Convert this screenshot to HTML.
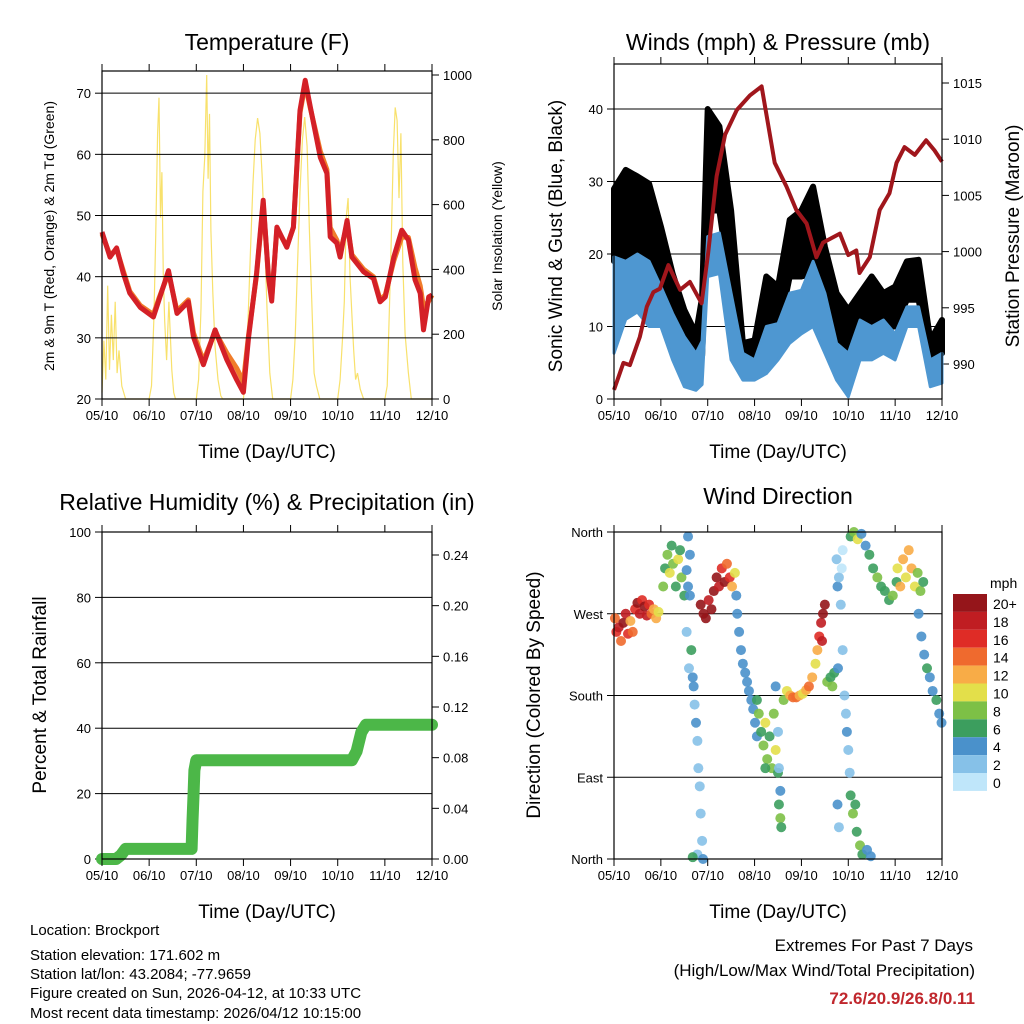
<!DOCTYPE html>
<html><head><meta charset="utf-8"><style>
html,body{margin:0;padding:0;background:#fff}
svg{display:block;font-family:"Liberation Sans",sans-serif}
</style></head><body>
<svg id="s" width="1024" height="1024" viewBox="0 0 1024 1024">
<rect width="1024" height="1024" fill="#fff"/>
<g font-size="23" text-anchor="middle" fill="#000">
<text x="267" y="50">Temperature (F)</text>
<text x="778" y="50">Winds (mph) &amp; Pressure (mb)</text>
<text x="267" y="510">Relative Humidity (%) &amp; Precipitation (in)</text>
<text x="778" y="504">Wind Direction</text>
</g>
<g font-size="19" text-anchor="middle">
<text x="267" y="458">Time (Day/UTC)</text>
<text x="778" y="458">Time (Day/UTC)</text>
<text x="267" y="918">Time (Day/UTC)</text>
<text x="778" y="918">Time (Day/UTC)</text>
<text transform="translate(562,236) rotate(-90)">Sonic Wind &amp; Gust (Blue, Black)</text>
<text transform="translate(1019,236) rotate(-90)">Station Pressure (Maroon)</text>
<text transform="translate(46,695) rotate(-90)">Percent &amp; Total Rainfall</text>
<text transform="translate(540,695) rotate(-90)">Direction (Colored By Speed)</text>
</g>
<g font-size="14" text-anchor="middle">
<text transform="translate(54,236) rotate(-90)">2m &amp; 9m T (Red, Orange) &amp; 2m Td (Green)</text>
<text transform="translate(502,236) rotate(-90)">Solar Insolation (Yellow)</text>
</g>
<g font-size="15">
<text x="30" y="935">Location: Brockport</text>
<text x="30" y="960">Station elevation: 171.602 m</text>
<text x="30" y="979">Station lat/lon: 43.2084; -77.9659</text>
<text x="30" y="998">Figure created on Sun, 2026-04-12, at 10:33 UTC</text>
<text x="30" y="1018">Most recent data timestamp: 2026/04/12 10:15:00</text>
</g>
<g font-size="17" text-anchor="end">
<text x="973" y="951">Extremes For Past 7 Days</text>
<text x="975" y="976">(High/Low/Max Wind/Total Precipitation)</text>
<text x="975" y="1004" font-weight="bold" fill="#c0272d">72.6/20.9/26.8/0.11</text>
</g>
</svg>
<script>
// ---------- data ----------
const dayLabels=["05/10","06/10","07/10","08/10","09/10","10/10","11/10","12/10"];
const tempT=[0,0.17,0.31,0.45,0.59,0.81,1.09,1.2,1.41,1.59,1.83,1.94,2.15,2.4,2.65,2.86,3.0,3.11,3.28,3.42,3.53,3.6,3.71,3.92,4.06,4.2,4.31,4.42,4.63,4.77,4.84,4.98,5.05,5.2,5.3,5.55,5.76,5.9,6.01,6.19,6.36,6.5,6.64,6.75,6.82,6.93,7.0];
const temp2m=[47.3,43.2,44.7,40.6,37.3,35,33.4,36,41,34,35.9,30.1,25.6,31.3,26.4,23.1,21.1,30.1,40.6,52.5,40,36,48.1,44.8,48.1,67.2,72.1,67.7,59.5,56.9,46.5,45.5,43.2,49.2,43.2,40.8,39.7,35.9,36.7,43.2,47.6,46,39.5,37.3,31.3,36.7,37];
const temp9m=[47,43.5,44.5,41,37.6,35.3,33.8,36.3,40.6,34.4,36.2,30.8,26.2,31,27.5,25,22.8,30.5,40.3,52,40.3,36.5,47.8,45,48,66.8,71.5,67.5,60.5,57.5,48,46,44,48.5,43.6,41.2,40,36.2,37,42.6,46.5,46.4,41.5,38.5,35,36,37];
const solarT=[0,0.04,0.08,0.12,0.16,0.2,0.24,0.28,0.32,0.36,0.42,0.5,1.0,1.05,1.1,1.14,1.18,1.21,1.24,1.27,1.3,1.33,1.37,1.42,1.48,1.52,1.56,2.0,2.05,2.1,2.14,2.18,2.22,2.25,2.28,2.31,2.35,2.4,2.46,2.52,2.56,3.0,3.05,3.1,3.15,3.2,3.25,3.3,3.35,3.4,3.45,3.5,3.56,3.62,4.0,4.05,4.1,4.15,4.2,4.25,4.3,4.35,4.4,4.45,4.5,4.55,4.62,5.0,5.05,5.1,5.14,5.18,5.22,5.26,5.3,5.34,5.38,5.42,5.48,5.55,6.0,6.05,6.1,6.14,6.18,6.22,6.26,6.3,6.34,6.38,6.43,6.5,6.56,7.0];
const solarW=[20,180,60,350,90,260,120,300,80,150,40,0,0,40,250,500,820,930,560,700,380,240,120,300,90,20,0,0,60,280,640,750,1000,680,880,520,330,160,60,10,0,0,80,250,460,660,800,867,820,680,500,280,80,0,0,60,200,420,640,800,870,780,520,300,80,40,0,0,60,180,300,560,620,380,260,150,60,80,30,0,0,40,300,520,760,900,860,620,820,420,200,80,0,0];
const windT=[0,0.25,0.5,0.75,1.0,1.25,1.5,1.75,1.88,2.0,2.25,2.5,2.75,3.0,3.25,3.5,3.75,4.0,4.25,4.5,4.75,5.0,5.25,5.5,5.75,6.0,6.25,6.5,6.75,7.0];
const windLo=[6.3,11,12,10,10,5.4,1.7,1.2,2,16.9,17.3,5.4,2.6,2.6,3.5,5.4,7.7,9,10,6.3,2.6,0.3,5.4,5.4,6.3,5.4,10,10,1.7,2.2];
const windHi=[19.6,19,20,19,15.5,11.8,8.6,6.3,8,22.4,22.9,14.6,6.3,5.4,10,10.4,14.6,15,19,14.6,7.7,6.3,10.9,10,10.9,9,12.7,12.7,5.4,6.3];
const gustLo=[19,19,20,19,14.6,10.9,5.4,4,6,26,26,14.6,4.9,5.4,10,9,16.9,16.9,17.3,10,6.3,2.6,9,9,10,10,13.7,13.7,5.4,6.3];
const gustHi=[29,31.6,30.7,29.7,23.8,17.3,12.3,9,14,40,37.6,26,7.7,8.1,16.9,15.5,24.7,26,29.3,21,14.6,12.3,14.6,16.9,14.6,15.5,19,19.2,8.1,10.9];
const presT=[0,0.2,0.34,0.55,0.7,0.84,0.98,1.16,1.41,1.62,1.87,2.01,2.19,2.37,2.62,2.9,3.15,3.43,3.68,3.89,4.11,4.32,4.46,4.82,5.0,5.17,5.24,5.46,5.67,5.88,6.03,6.2,6.42,6.66,6.84,7.0];
const presMb=[987.7,990.1,989.9,992.4,995.1,996.4,996.7,998.8,996.6,997.3,995.4,999.9,1006.7,1010.4,1012.6,1013.9,1014.7,1007.9,1005.8,1003.7,1002.5,999.5,1000.8,1001.6,999.7,1000.1,998.1,999.5,1003.7,1005.2,1007.9,1009.3,1008.6,1009.9,1009,1008];
const rainT=[0,0.3,0.4,0.5,1.9,1.92,1.94,1.96,2.0,5.3,5.4,5.5,5.6,7.0];
const rainIn=[0,0,0.003,0.008,0.008,0.03,0.05,0.07,0.078,0.078,0.085,0.1,0.106,0.106];
const dirT=[0.02,0.05,0.1,0.15,0.2,0.25,0.3,0.35,0.4,0.45,0.5,0.55,0.6,0.65,0.7,0.75,0.8,0.85,0.9,0.95,
1.05,1.09,1.14,1.19,1.23,1.26,1.32,1.37,1.41,1.44,1.5,1.55,1.58,1.62,
1.55,1.58,1.62,1.6,1.65,1.68,1.7,1.72,1.75,1.78,1.8,1.83,1.85,1.88,1.78,1.9,1.68,
1.85,1.91,1.96,2.02,2.08,2.13,2.19,2.24,2.3,2.36,2.41,2.47,2.52,2.58,2.61,
2.63,2.67,2.71,2.75,2.8,2.84,2.88,2.93,2.97,3.01,3.05,
3.05,3.09,3.14,3.19,3.23,3.27,3.32,3.37,3.41,3.45,3.5,3.23,
3.45,3.5,3.52,3.55,3.52,3.55,3.57,
3.62,3.69,3.76,3.82,3.89,3.96,4.03,4.1,4.16,4.23,4.3,4.34,4.38,4.42,4.46,4.5,4.44,
4.55,4.62,4.7,4.78,4.66,
4.75,4.77,4.8,4.84,4.88,4.92,4.95,4.97,5.0,5.03,4.77,4.8,4.88,4.86,
5.05,5.1,5.18,5.25,5.3,5.4,5.48,5.15,
5.05,5.12,5.2,5.28,5.37,5.45,5.53,5.62,5.7,5.78,5.87,5.95,6.03,
6.05,6.11,6.17,6.23,6.29,6.35,6.42,6.48,6.54,6.6,
6.5,6.56,6.62,6.68,6.74,6.8,6.88,6.94,6.99];
const dirDeg=[265,250,255,240,260,270,248,262,250,275,282,270,285,278,268,280,270,275,265,272,
300,320,335,315,345,325,300,330,340,310,290,318,355,335,
250,300,290,210,230,200,190,170,150,130,100,80,50,20,5,0,2,
280,270,265,285,275,295,310,300,320,305,325,310,300,315,290,
270,250,230,215,205,195,185,175,165,150,135,
175,160,140,125,150,110,135,100,160,120,95,100,
190,140,100,75,60,45,35,
175,185,180,178,178,180,182,186,190,200,215,230,245,260,270,280,240,
195,200,205,210,190,
330,300,310,280,230,180,160,140,120,95,60,35,340,320,
70,50,30,15,5,10,3,60,
355,360,352,358,345,335,320,310,300,295,285,290,305,
320,300,330,310,340,320,300,315,295,305,
270,245,225,210,200,185,175,160,150];
const dirSpd=[14,16,18,14,20,18,16,12,14,16,20,18,16,20,18,16,14,12,12,10,
8,6,8,10,6,8,6,10,6,8,6,4,4,4,
2,4,4,2,6,4,4,2,4,2,2,2,2,2,2,4,6,
20,20,20,18,20,20,20,18,16,20,14,16,12,10,4,
4,4,4,4,4,4,4,4,4,4,4,
6,8,6,8,10,8,6,8,8,10,6,6,
4,2,2,4,6,8,6,
8,10,12,14,14,12,10,12,14,12,10,12,16,18,20,20,18,
8,6,6,4,8,
2,4,2,2,2,2,2,4,2,2,4,2,0,0,
6,8,6,8,6,4,4,6,
6,8,10,4,4,6,6,8,6,6,6,8,6,
10,12,12,10,12,12,10,8,8,6,
4,4,4,6,4,4,6,4,4];
const spdLevels=["0","2","4","6","8","10","12","14","16","18","20+"];
const spdColors=["#bfe6fa","#86c1e8","#4a91cb","#3c9e5e","#7dc046","#e3df4a","#f8ac47","#ef6a2e","#df2c26","#c01d22","#95151a"];

// ---------- helpers ----------
const S=document.getElementById('s');
const NS="http://www.w3.org/2000/svg";
function mk(tag,attrs,parent){const e=document.createElementNS(NS,tag);for(const k in attrs)e.setAttribute(k,attrs[k]);(parent||S).appendChild(e);return e;}
function panel(box){
  const g=mk('g',{});
  
  
  return g;
}
function xScale(box){return t=>box.x0+t/7*(box.x1-box.x0);}
function lin(d0,d1,r0,r1){return v=>r0+(v-d0)/(d1-d0)*(r1-r0);}
function frame(g,box){
  const f=mk('rect',{x:box.x0,y:box.y0,width:box.x1-box.x0,height:box.y1-box.y0,fill:'none',stroke:'#000','stroke-width':1.2},g);
  
  
  const X=xScale(box);
  for(let i=0;i<8;i++){
    const x=X(i);
    mk('line',{x1:x,x2:x,y1:box.y1,y2:box.y1+7,stroke:'#000'},g);
    mk('line',{x1:x,x2:x,y1:box.y0,y2:box.y0-7,stroke:'#000'},g);
    const tl=mk('text',{x:x,y:box.y1+21,'font-size':13,'text-anchor':'middle'},g);
    tl.textContent=dayLabels[i];
    
    
  }
}
function yAxis(g,box,ticks,labels,scale,side,grid){
  ticks.forEach((v,i)=>{
    const y=scale(v);
    if(grid && y>box.y0+2 && y<box.y1-2) mk('line',{x1:box.x0,x2:box.x1,y1:y,y2:y,stroke:'#000','stroke-width':1},g);
    const xe=side==='l'?box.x0:box.x1;
    mk('line',{x1:xe,x2:xe+(side==='l'?-7:7),y1:y,y2:y,stroke:'#000'},g);
    const t=mk('text',{x:side==='l'?box.x0-11:box.x1+11,y:y+5,'font-size':13,'text-anchor':side==='l'?'end':'start'},g);
    t.textContent=labels[i];
    
    
  });
}
function path(xs,ys){return xs.map((x,i)=>(i?'L':'M')+x.toFixed(1)+','+ys[i].toFixed(1)).join('');}

// ---------- panel 1: temperature ----------
const b1={x0:102,x1:432,y0:71,y1:399,name:'temperature-panel'};
const g1=panel(b1);
const X1=xScale(b1),Y1=lin(20,73.3,399,73),YS=lin(0,1000,399,75);
const sol=mk('path',{d:path(solarT.map(X1),solarW.map(YS)),fill:'none',stroke:'#f7dc52','stroke-width':1.2,opacity:0.85},g1);


const o=mk('path',{d:path(tempT.map(X1),temp9m.map(Y1)),fill:'none',stroke:'#f07c2a','stroke-width':5,'stroke-linejoin':'round'},g1);


const r=mk('path',{d:path(tempT.map(X1),temp2m.map(Y1)),fill:'none',stroke:'#d42027','stroke-width':5,'stroke-linejoin':'round'},g1);


yAxis(g1,b1,[20,30,40,50,60,70],["20","30","40","50","60","70"],Y1,'l',true);
yAxis(g1,b1,[0,200,400,600,800,1000],["0","200","400","600","800","1000"],YS,'r',false);
frame(g1,b1);

// ---------- panel 2: winds ----------
const b2={x0:614,x1:942,y0:64,y1:399,name:'winds-panel'};
const g2=panel(b2);
const X2=xScale(b2),Y2=lin(0,40,399,109),YP=lin(990,1015,364,83);
yAxis(g2,b2,[0,10,20,30,40],["0","10","20","30","40"],Y2,'l',true);
yAxis(g2,b2,[990,995,1000,1005,1010,1015],["990","995","1000","1005","1010","1015"],YP,'r',false);
const gb=mk('path',{d:path(windT.map(X2),gustHi.map(Y2))+path(windT.map(X2).reverse(),gustLo.map(Y2).reverse()).replace('M','L')+'Z',fill:'#000',stroke:'#000','stroke-width':6,'stroke-linejoin':'round'},g2);


const wb=mk('path',{d:path(windT.map(X2),windHi.map(Y2))+path(windT.map(X2).reverse(),windLo.map(Y2).reverse()).replace('M','L')+'Z',fill:'#4e97d1',stroke:'#4e97d1','stroke-width':3,'stroke-linejoin':'round'},g2);


const pr=mk('path',{d:path(presT.map(X2),presMb.map(YP)),fill:'none',stroke:'#a0161c','stroke-width':4,'stroke-linejoin':'round'},g2);


frame(g2,b2);

// ---------- panel 3: RH & precip ----------
const b3={x0:102,x1:432,y0:532,y1:859,name:'humidity-panel'};
const g3=panel(b3);
const X3=xScale(b3),Y3=lin(0,100,859,532),YR=lin(0,0.24,859,555);
yAxis(g3,b3,[0,20,40,60,80,100],["0","20","40","60","80","100"],Y3,'l',true);
yAxis(g3,b3,[0,0.04,0.08,0.12,0.16,0.2,0.24],["0.00","0.04","0.08","0.12","0.16","0.20","0.24"],YR,'r',false);
const rn=mk('path',{d:path(rainT.map(X3),rainIn.map(YR)),fill:'none',stroke:'#4cb748','stroke-width':12,'stroke-linecap':'round','stroke-linejoin':'round'},g3);


frame(g3,b3);

// ---------- panel 4: wind direction ----------
const b4={x0:614,x1:942,y0:532,y1:859,name:'wind-direction-panel'};
const g4=panel(b4);
const X4=xScale(b4),Y4=lin(0,360,859,532);
yAxis(g4,b4,[0,90,180,270,360],["North","East","South","West","North"],Y4,'l',true);
dirT.forEach((t,i)=>{
  const ci=Math.min(10,Math.round(dirSpd[i]/2));
  const c=mk('circle',{cx:X4(t),cy:Y4(dirDeg[i]),r:5,fill:spdColors[ci],opacity:0.9},g4);
  
  
});
frame(g4,b4);
// colorbar
const cb=mk('g',{});


const cbt=mk('text',{x:990,y:588,'font-size':14},cb);
cbt.textContent='mph';


for(let k=0;k<11;k++){
  const idx=10-k,y=594+k*17.9;
  const rr=mk('rect',{x:953,y:y,width:34,height:17.9,fill:spdColors[idx]},cb);
  
  
  const tt=mk('text',{x:993,y:y+15,'font-size':14},cb);
  tt.textContent=spdLevels[idx];
  
  
}
</script>
</body></html>
